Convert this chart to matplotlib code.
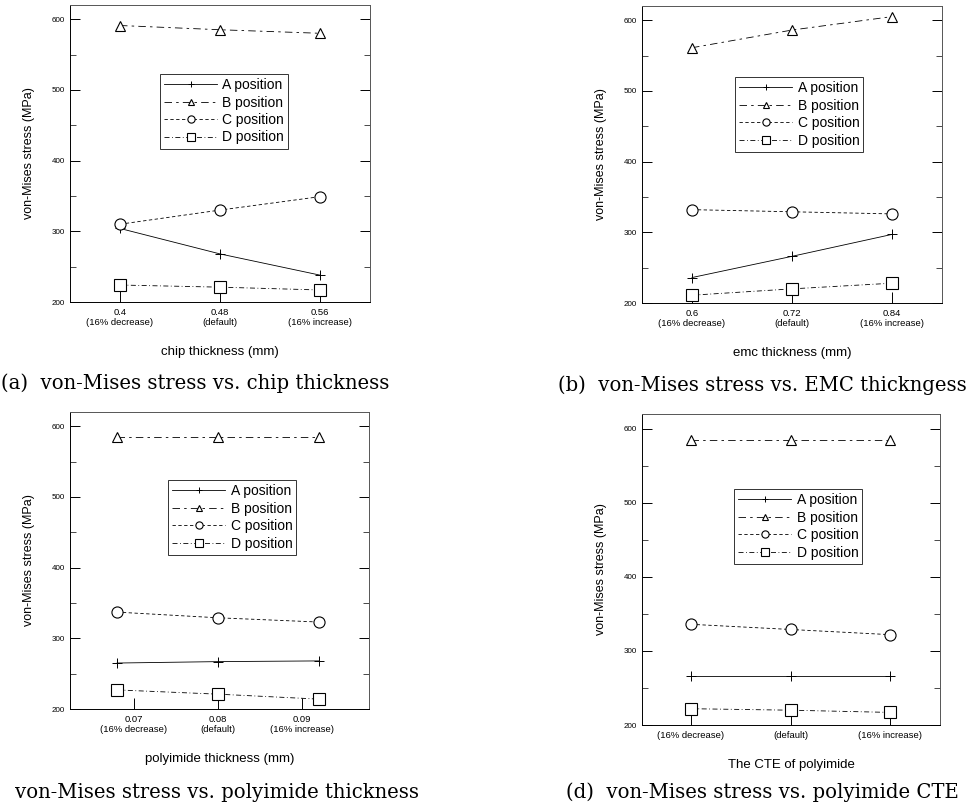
import numpy as np
import matplotlib
matplotlib.use("Agg")
import matplotlib.pyplot as plt
from matplotlib.ticker import MultipleLocator

plt.rcParams['font.family'] = ['Liberation Sans', 'DejaVu Sans']

# (a) chip thickness
chip_x = [0.4, 0.48, 0.56]
chip_ticks = ["0.4\n(16% decrease)", "0.48\n(default)", "0.56\n(16% increase)"]
chip_A = [304, 268, 238]
chip_B = [591, 585, 580]
chip_C = [310, 330, 349]
chip_D = [224, 221, 217]

# (b) emc thickness
emc_x = [0.6, 0.72, 0.84]
emc_ticks = ["0.6\n(16% decrease)", "0.72\n(default)", "0.84\n(16% increase)"]
emc_A = [236, 266, 297]
emc_B = [561, 586, 605]
emc_C = [332, 329, 326]
emc_D = [211, 220, 228]

# (c) polyimide thickness
pi_x = [0.068, 0.08, 0.092]
pi_tick_pos = [0.07, 0.08, 0.09]
pi_ticks = ["0.07\n(16% decrease)", "0.08\n(default)", "0.09\n(16% increase)"]
pi_A = [265, 267, 268]
pi_B = [585, 585, 585]
pi_C = [337, 329, 323]
pi_D = [227, 221, 214]

# (d) polyimide CTE
cte_x = [1, 2, 3]
cte_ticks = ["(16% decrease)", "(default)", "(16% increase)"]
cte_A = [266, 266, 266]
cte_B = [585, 585, 585]
cte_C = [336, 329, 322]
cte_D = [222, 220, 217]

names = ["A position", "B position", "C position", "D position"]

fig = plt.figure(figsize=(9.77, 8.09), dpi=100)
W, H = 977, 809


def px_axes(l, t, r, b):
    return fig.add_axes([l / W, 1 - b / H, (r - l) / W, (b - t) / H])


def panel(ax, x, A, B, C, D, tpos, tlab, xlim, xlabel, leg_anchor):
    lw = 0.6
    ax.plot(x, A, color='k', lw=lw, ls='-', marker='+', ms=7, mew=0.7, label=names[0])
    ax.plot(x, B, color='k', lw=lw, ls=(0, (9, 5, 3, 5)), marker='^', ms=7,
            mfc='white', mew=0.8, label=names[1])
    ax.plot(x, C, color='k', lw=lw, ls=(0, (4, 3)), marker='o', ms=8,
            mfc='white', mew=0.8, label=names[2])
    ax.plot(x, D, color='k', lw=lw, ls=(0, (6, 3, 1, 3)), marker='s', ms=8,
            mfc='white', mew=0.8, label=names[3])
    ax.set_xlim(*xlim)
    ax.set_ylim(200, 620)
    ax.set_xticks(tpos)
    ax.set_xticklabels(tlab, fontsize=6.8)
    ax.set_yticks([200, 300, 400, 500, 600])
    ax.yaxis.set_minor_locator(MultipleLocator(50))
    ax.tick_params(axis='y', labelsize=5.8, direction='in', length=7, width=0.7,
                   right=True)
    ax.tick_params(axis='y', which='minor', direction='in', length=4, width=0.5,
                   right=True)
    ax.tick_params(axis='x', direction='in', length=8, width=0.7, pad=4)
    for s in ax.spines.values():
        s.set_linewidth(0.7)
    ax.spines['top'].set_color('#555555')
    ax.spines['right'].set_color('#555555')
    ax.set_xlabel(xlabel, fontsize=9.5, labelpad=14)
    ax.set_ylabel("von-Mises stress (MPa)", fontsize=9, labelpad=12)
    leg = ax.legend(loc='upper left', bbox_to_anchor=leg_anchor, fontsize=10,
                    handlelength=3.8, markerscale=0.65, frameon=True,
                    fancybox=False, borderpad=0.3, labelspacing=0.25,
                    handletextpad=0.4, borderaxespad=0)
    leg.get_frame().set_edgecolor('k')
    leg.get_frame().set_linewidth(0.7)


ax_a = px_axes(70, 5, 370, 302)
panel(ax_a, chip_x, chip_A, chip_B, chip_C, chip_D, chip_x, chip_ticks,
      (0.36, 0.6), "chip thickness (mm)", (0.30, 0.768))

ax_b = px_axes(642, 6, 942, 303)
panel(ax_b, emc_x, emc_A, emc_B, emc_C, emc_D, emc_x, emc_ticks,
      (0.54, 0.9), "emc thickness (mm)", (0.31, 0.761))

ax_c = px_axes(70, 412, 369, 709)
panel(ax_c, pi_x, pi_A, pi_B, pi_C, pi_D, pi_tick_pos, pi_ticks,
      (0.0624, 0.098), "polyimide thickness (mm)", (0.328, 0.771))

ax_d = px_axes(642, 414, 940, 725)
panel(ax_d, cte_x, cte_A, cte_B, cte_C, cte_D, cte_x, cte_ticks,
      (0.51, 3.5), "The CTE of polyimide", (0.309, 0.759))

cap = dict(fontsize=14.1, family='DejaVu Serif', va='center', ha='left')
fig.text(1 / W, 1 - 383 / H, "(a)  von-Mises stress vs. chip thickness", **cap)
fig.text(558 / W, 1 - 385 / H, "(b)  von-Mises stress vs. EMC thickngess", **cap)
fig.text(15 / W, 1 - 792 / H, "von-Mises stress vs. polyimide thickness", **cap)
fig.text(566 / W, 1 - 792 / H, "(d)  von-Mises stress vs. polyimide CTE", **cap)

fig.savefig("out.png", dpi=100)
